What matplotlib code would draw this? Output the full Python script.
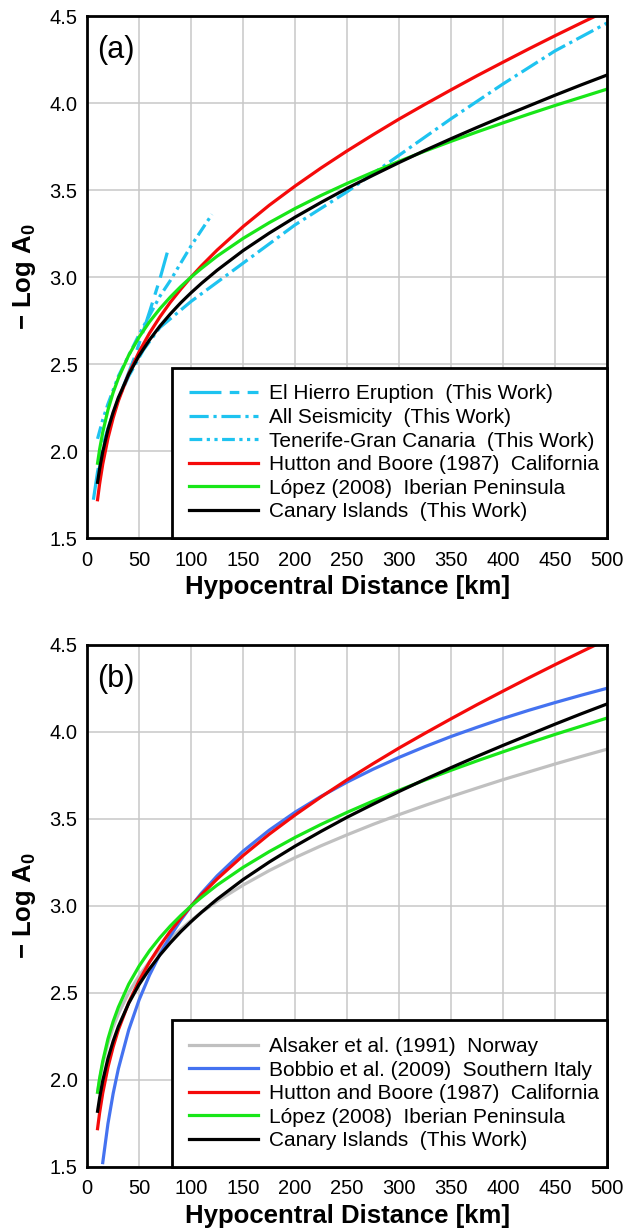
import numpy as np
import matplotlib
matplotlib.use("Agg")
import matplotlib.pyplot as plt

plt.rcParams['font.family'] = ['Liberation Sans', 'DejaVu Sans']
plt.rcParams['mathtext.default'] = 'regular'

# distances (km) shared by the smooth reference curves
dist = [10, 12, 15, 20, 25, 30, 40, 50, 60, 70, 80, 90, 100, 110, 125, 150,
        175, 200, 225, 250, 275, 300, 325, 350, 375, 400, 425, 450, 475, 500]
hutton = [1.720, 1.812, 1.925, 2.073, 2.190, 2.288, 2.445, 2.571, 2.678,
          2.771, 2.855, 2.930, 3.000, 3.065, 3.155, 3.290, 3.412, 3.523,
          3.627, 3.725, 3.818, 3.908, 3.993, 4.076, 4.157, 4.235, 4.312,
          4.387, 4.460, 4.532]
lopez = [1.930, 2.010, 2.108, 2.236, 2.336, 2.418, 2.551, 2.655, 2.743,
         2.818, 2.885, 2.945, 3.000, 3.050, 3.120, 3.222, 3.312, 3.394,
         3.469, 3.538, 3.603, 3.665, 3.724, 3.780, 3.834, 3.886, 3.937,
         3.986, 4.033, 4.080]
canary = [1.820, 1.898, 1.996, 2.123, 2.223, 2.307, 2.441, 2.549, 2.639,
          2.718, 2.788, 2.852, 2.910, 2.964, 3.039, 3.152, 3.252, 3.344,
          3.429, 3.510, 3.585, 3.658, 3.728, 3.795, 3.860, 3.923, 3.984,
          4.045, 4.104, 4.161]
alsaker = [1.928, 2.002, 2.093, 2.211, 2.304, 2.380, 2.502, 2.599, 2.680,
           2.750, 2.811, 2.866, 2.917, 2.963, 3.027, 3.120, 3.203, 3.278,
           3.346, 3.409, 3.469, 3.525, 3.578, 3.629, 3.678, 3.726, 3.771,
           3.816, 3.859, 3.901]

bobbio_dist = [15, 20, 25, 30, 40, 50, 60, 70, 80, 90, 100, 110, 125, 150,
               175, 200, 225, 250, 275, 300, 325, 350, 375, 400, 425, 450,
               475, 500]
bobbio = [1.525, 1.749, 1.922, 2.064, 2.288, 2.461, 2.603, 2.723, 2.827,
          2.918, 3.000, 3.074, 3.173, 3.315, 3.435, 3.539, 3.630, 3.712,
          3.786, 3.854, 3.916, 3.974, 4.027, 4.078, 4.125, 4.169, 4.211,
          4.251]

# this work, panel (a)
hierro_dist = [6, 10, 15, 20, 27, 36, 45, 54, 60, 70, 77]
hierro = [1.72, 1.88, 2.03, 2.13, 2.25, 2.39, 2.53, 2.69, 2.80, 2.99, 3.14]
allseis_dist = [10, 15, 20, 30, 40, 54, 70, 100, 150, 200, 250, 300,
                350, 400, 450, 500]
allseis = [1.85, 2.00, 2.12, 2.30, 2.43, 2.58, 2.71, 2.86, 3.08, 3.30, 3.49,
           3.70, 3.91, 4.11, 4.30, 4.46]
tenerife_dist = [10, 15, 20, 30, 40, 50, 60, 70, 80, 90, 100, 110, 120]
tenerife = [2.07, 2.18, 2.27, 2.43, 2.55, 2.67, 2.78, 2.89, 2.98, 3.08,
            3.18, 3.27, 3.36]

CYAN = '#1ec3f0'
RED = '#f50a0a'
GREEN = '#18e618'
BLACK = '#000000'
GRAY = '#c0c0c0'
BLUE = '#4472f0'
LW = 2.3
FS = 14.5

fig = plt.figure(figsize=(6.27, 12.32), dpi=100)
ax_a = fig.add_axes([0.139, 0.5633, 0.8293, 0.4237])
ax_b = fig.add_axes([0.139, 0.0528, 0.8293, 0.4237])


def style_axes(ax, tag):
    ax.set_xlim(0, 500)
    ax.set_ylim(1.5, 4.5)
    ax.set_xticks(np.arange(0, 501, 50))
    ax.set_yticks(np.arange(1.5, 4.51, 0.5))
    ax.set_yticklabels([f'{v:.1f}' for v in np.arange(1.5, 4.51, 0.5)])
    ax.grid(True, color='#c8c8c8', lw=1.1)
    ax.set_axisbelow(True)
    ax.tick_params(length=0, labelsize=FS)
    ax.tick_params(axis='y', pad=7)
    ax.tick_params(axis='x', pad=9)
    for s in ax.spines.values():
        s.set_linewidth(2)
    ax.set_xlabel('Hypocentral Distance [km]', fontsize=18.5,
                  fontweight='bold', labelpad=4)
    ax.set_ylabel('\u2212 Log A$_0$', fontsize=18.5, fontweight='bold',
                  labelpad=8)
    ax.text(0.019, 0.935, tag, transform=ax.transAxes, fontsize=22,
            va='center', ha='left')


# panel (a)
ax_a.plot(hierro_dist, hierro, color=CYAN, lw=LW, ls=(0, (10, 2.6, 3, 2.6)),
          label='El Hierro Eruption  (This Work)')
ax_a.plot(allseis_dist, allseis, color=CYAN, lw=LW, ls=(0, (6, 1.5, 1, 1.5)),
          label='All Seismicity  (This Work)')
ax_a.plot(tenerife_dist, tenerife, color=CYAN, lw=LW,
          ls=(0, (4, 1.4, 1, 1.4, 1, 1.4)),
          label='Tenerife-Gran Canaria  (This Work)')
ax_a.plot(dist, hutton, color=RED, lw=LW,
          label='Hutton and Boore (1987)  California')
ax_a.plot(dist, lopez, color=GREEN, lw=LW,
          label='L\u00f3pez (2008)  Iberian Peninsula')
ax_a.plot(dist, canary, color=BLACK, lw=LW,
          label='Canary Islands  (This Work)')
style_axes(ax_a, '(a)')

# panel (b)
ax_b.plot(dist, alsaker, color=GRAY, lw=LW,
          label='Alsaker et al. (1991)  Norway')
ax_b.plot(bobbio_dist, bobbio, color=BLUE, lw=LW,
          label='Bobbio et al. (2009)  Southern Italy')
ax_b.plot(dist, hutton, color=RED, lw=LW,
          label='Hutton and Boore (1987)  California')
ax_b.plot(dist, lopez, color=GREEN, lw=LW,
          label='L\u00f3pez (2008)  Iberian Peninsula')
ax_b.plot(dist, canary, color=BLACK, lw=LW,
          label='Canary Islands  (This Work)')
style_axes(ax_b, '(b)')

for ax in (ax_a, ax_b):
    leg = ax.legend(loc='lower left', bbox_to_anchor=(0.164, 0.0, 0.836, 0.4),
                    mode='expand', fontsize=15, handlelength=3.3,
                    handletextpad=0.55, labelspacing=0.22, borderpad=0.8,
                    fancybox=False, framealpha=1, edgecolor='black',
                    borderaxespad=0)
    leg.get_frame().set_linewidth(2)

fig.savefig('out.png', dpi=100)
